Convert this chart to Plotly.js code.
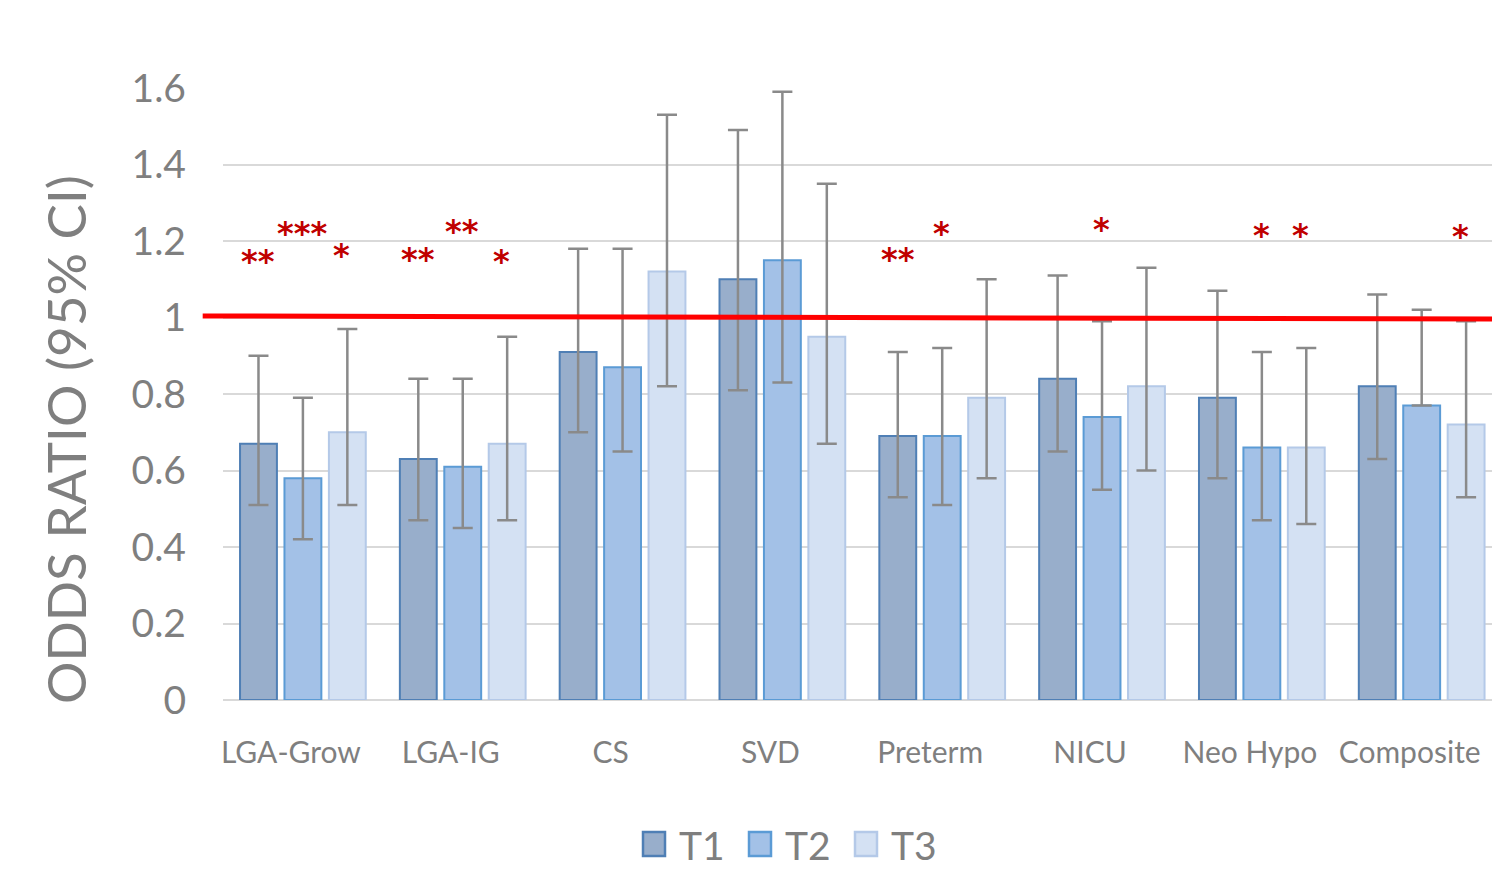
<!DOCTYPE html>
<html>
<head>
<meta charset="utf-8">
<script src="https://cdn.plot.ly/plotly-3.0.1.min.js"></script>
<style>
html,body{margin:0;padding:0;background:#fff;}
#chart{width:1492px;height:873px;}
</style>
</head>
<body>
<div id="chart"></div>
<script>
// ---- data ----
const categories = ['LGA-Grow','LGA-IG','CS','SVD','Preterm','NICU','Neo Hypo','Composite'];
const seriesNames = ['T1','T2','T3'];
const t1   = [0.67, 0.63, 0.91, 1.10, 0.69, 0.84, 0.79, 0.82];
const t1Hi = [0.90, 0.84, 1.18, 1.49, 0.91, 1.11, 1.07, 1.06];
const t1Lo = [0.51, 0.47, 0.70, 0.81, 0.53, 0.65, 0.58, 0.63];
const t2   = [0.58, 0.61, 0.87, 1.15, 0.69, 0.74, 0.66, 0.77];
const t2Hi = [0.79, 0.84, 1.18, 1.59, 0.92, 0.99, 0.91, 1.02];
const t2Lo = [0.42, 0.45, 0.65, 0.83, 0.51, 0.55, 0.47, 0.77];
const t3   = [0.70, 0.67, 1.12, 0.95, 0.79, 0.82, 0.66, 0.72];
const t3Hi = [0.97, 0.95, 1.53, 1.35, 1.10, 1.13, 0.92, 0.99];
const t3Lo = [0.51, 0.47, 0.82, 0.67, 0.58, 0.60, 0.46, 0.53];
const yTicks = [0, 0.2, 0.4, 0.6, 0.8, 1, 1.2, 1.4, 1.6];
const yTickText = ['0','0.2','0.4','0.6','0.8','1','1.2','1.4','1.6'];
const referenceLine = 1;
// significance marks: category index, series index, text, y level
const sigCat    = [0, 0, 0, 1, 1, 1, 4, 4, 5, 6, 6, 7];
const sigSeries = [0, 1, 2, 0, 1, 2, 0, 1, 1, 1, 2, 2];
const sigText   = ['**','***','*','**','**','*','**','*','*','*','*','*'];
const sigY      = [1.147, 1.222, 1.163, 1.152, 1.227, 1.147, 1.152, 1.222, 1.232, 1.217, 1.217, 1.213];

// ---- styles ----
const fills   = ['#98aecb', '#a3c1e7', '#d4e1f3'];
const borders = ['#4f7fb5', '#5b9bd5', '#b4c9e8'];
const fontFam = 'Lato, "Open Sans", sans-serif';
const grey = '#7f7f7f';

const vals = [t1, t2, t3], his = [t1Hi, t2Hi, t3Hi], los = [t1Lo, t2Lo, t3Lo];
const traces = [];
for (let s = 0; s < 3; s++) {
  traces.push({
    type: 'bar', x: categories, y: vals[s], name: seriesNames[s], showlegend: false,
    marker: {color: fills[s], line: {color: borders[s], width: 2}},
    error_y: {type: 'data', symmetric: false,
      array: his[s].map((h, i) => h - vals[s][i]),
      arrayminus: los[s].map((l, i) => vals[s][i] - l),
      color: '#8a8a8a', thickness: 2.5, width: 10},
    hoverinfo: 'skip'
  });
}

const starOffsets = [-0.278, -0.005, 0.24];
const annotations = sigText.map((t, i) => ({
  x: sigCat[i] + starOffsets[sigSeries[i]], y: sigY[i], xref: 'x', yref: 'y',
  text: '<b>' + t + '</b>', showarrow: false,
  font: {family: '"DejaVu Sans", sans-serif', size: 32, color: '#c00000'},
  xanchor: 'center', yanchor: 'middle'
}));
annotations.push({
  xref: 'paper', yref: 'paper', x: -0.124, y: 0.426, text: 'ODDS RATIO (95% CI)',
  textangle: -90, showarrow: false, font: {family: fontFam, size: 53, color: grey},
  xanchor: 'center', yanchor: 'middle'
});

// manual legend (pixel geometry converted to paper coords)
const plotL = 223, plotW = 1269, plotB = 700, plotH = 612;
const px = v => (v - plotL) / plotW;
const py = v => (plotB - v) / plotH;
const legendBoxX = [643, 749, 855];
const legendTextX = [677, 783, 889];
const shapes = [{type: 'line', xref: 'paper', yref: 'y', x0: -0.016, x1: 1,
  y0: referenceLine + 0.004, y1: referenceLine - 0.004, line: {color: '#ff0000', width: 5}}];
for (let s = 0; s < 3; s++) {
  shapes.push({type: 'rect', xref: 'paper', yref: 'paper',
    x0: px(legendBoxX[s]), x1: px(legendBoxX[s] + 22), y0: py(832), y1: py(856),
    fillcolor: fills[s], line: {color: borders[s], width: 2.5}});
  annotations.push({xref: 'paper', yref: 'paper', x: px(legendTextX[s]), y: py(845),
    text: seriesNames[s], showarrow: false, xanchor: 'left', yanchor: 'middle',
    font: {family: fontFam, size: 39, color: grey}});
}

const layout = {
  width: 1492, height: 873,
  margin: {l: 223, r: 0, t: 88, b: 173},
  paper_bgcolor: '#ffffff', plot_bgcolor: '#ffffff',
  barmode: 'group', bargap: 0.166, bargroupgap: 0.17,
  showlegend: false,
  xaxis: {type: 'category', range: [-0.5, 7.44], showgrid: false, zeroline: false,
    showline: false, ticks: '', tickfont: {family: fontFam, size: 30, color: grey},
    ticklabelstandoff: 32, ticklabelshift: -12, fixedrange: true},
  yaxis: {range: [0, 1.6], tickvals: yTicks, ticktext: yTickText, showgrid: true,
    gridcolor: '#d9d9d9', gridwidth: 2, zeroline: true, zerolinecolor: '#d9d9d9', zerolinewidth: 2,
    showline: false, ticks: '', tickfont: {family: fontFam, size: 39, color: grey},
    ticklabelstandoff: 36, fixedrange: true},
  shapes: shapes,
  annotations: annotations
};

Plotly.newPlot('chart', traces, layout, {displayModeBar: false, staticPlot: true});
</script>
</body>
</html>
